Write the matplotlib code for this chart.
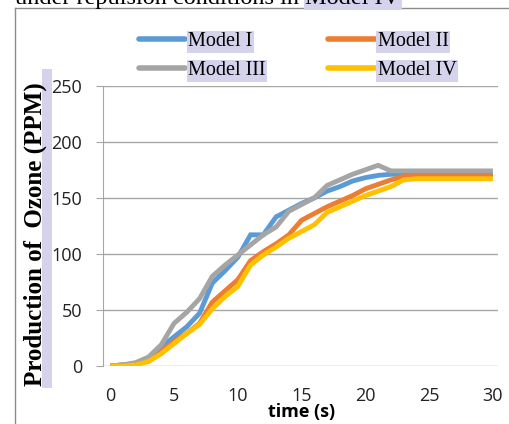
import matplotlib
matplotlib.use("Agg")
import matplotlib.pyplot as plt
from matplotlib.lines import Line2D
from matplotlib.patches import Rectangle

time_s = list(range(0, 31))
model_1 = [0, 1, 2, 7, 17, 26, 35, 47, 74, 85, 97, 117, 117, 133, 139, 145, 150, 156, 160, 165,
           168, 170, 171, 171, 171, 171, 171, 171, 171, 171, 171]
model_2 = [0, 1, 2, 6, 13, 22, 29, 38, 57, 67, 77, 94, 102, 109, 117, 130, 136, 142, 147, 152,
           158, 162, 166, 169, 169, 169, 169, 169, 169, 169, 169]
model_3 = [0, 1, 3, 8, 19, 38, 48, 60, 80, 90, 99, 108, 117, 124, 138, 144, 150, 161, 166, 171,
           175, 179, 174, 174, 174, 174, 174, 174, 174, 174, 174]
model_4 = [0, 0, 1, 4, 11, 20, 29, 37, 51, 62, 71, 90, 99, 106, 114, 120, 126, 137, 142, 147,
           152, 156, 160, 166, 167, 167, 167, 167, 167, 167, 167]
series_names = ["Model I", "Model II", "Model III", "Model IV"]
series_colors = ["#5B9BD5", "#ED7D31", "#A5A5A5", "#FFC000"]
y_ticks = [0, 50, 100, 150, 200, 250]
x_ticks = [0, 5, 10, 15, 20, 25, 30]

W, H = 509, 424
fig = plt.figure(figsize=(W / 100, H / 100), dpi=100)

def fx(px):
    return px / W

def fy(py):
    return 1 - py / H

HL = "#D5D2EC"

# outer frame lines
fig.add_artist(Line2D([fx(15), fx(15)], [0, fy(7.8)], color="#8C8C8C", lw=1.0))
fig.add_artist(Line2D([fx(15), 1], [fy(7.8), fy(7.8)], color="#8C8C8C", lw=1.0))

# caption at top (cut off by the page edge, as in the source)
cap = fig.text(fx(15), fy(4), "under repulsion conditions in ", fontsize=17.5,
               family="Liberation Serif", ha="left", va="baseline", color="black")
fig.canvas.draw()
bb = cap.get_window_extent()
fig.text(bb.x1 / W, fy(4), "Model IV", fontsize=17.5, family="Liberation Serif",
         ha="left", va="baseline", color="black",
         bbox=dict(facecolor=HL, edgecolor="none", pad=1))

ax_left, ax_right = 103, 498
ax_top, ax_bot = 85.7, 366
ax = fig.add_axes([fx(ax_left), fy(ax_bot), (ax_right - ax_left) / W, (ax_bot - ax_top) / H])

series = [model_1, model_2, model_3, model_4]
handles = []
for vals, name, col in zip(series, series_names, series_colors):
    h, = ax.plot(time_s, vals, color=col, lw=3.5, label=name, solid_capstyle="butt",
                 solid_joinstyle="miter")
    handles.append(h)

ax.set_xlim(-0.57, 30.4)
ax.set_ylim(0, 250)
ax.set_yticks(y_ticks)
ax.set_xticks(x_ticks)
ax.grid(axis="y", color="#A6A6A6", lw=1.0)
ax.set_axisbelow(True)
for s in ["top", "right", "bottom"]:
    ax.spines[s].set_visible(False)
ax.spines["left"].set_color("#A6A6A6")
ax.tick_params(axis="y", length=5, color="#A6A6A6", pad=10, labelsize=13)
ax.tick_params(axis="x", length=0, pad=15, labelsize=13)
for lab in ax.get_xticklabels() + ax.get_yticklabels():
    lab.set_family("Open Sans")
    lab.set_color("#222222")

ax.set_xlabel("time (s)", fontsize=13, fontweight="bold", family="Open Sans")
ax.xaxis.set_label_coords(0.503, (ax_bot - 412.5) / (ax_bot - ax_top))
ax.xaxis.label.set_va("center")

# y label with offset highlight bar
fig.add_artist(Rectangle((fx(41.7), fy(388)), (51.7 - 41.7) / W, (388 - 69.3) / H,
                         facecolor=HL, edgecolor="none"))
fig.text(fx(35.5), fy(234), "Production of  Ozone (PPM)", rotation=90, fontsize=18,
         fontweight="bold", family="Liberation Serif", ha="center", va="center")

# legend: row-wise order (I, II / III, IV) with column-major filling
order = [0, 2, 1, 3]
leg = fig.legend(handles=[handles[i] for i in order],
                 labels=[series_names[i] for i in order], ncol=2, loc="upper left",
                 bbox_to_anchor=(fx(139), fy(32)), frameon=False,
                 prop={"family": "Liberation Serif", "size": 14.5},
                 handlelength=2.3, handletextpad=0.15, columnspacing=3.1,
                 labelspacing=0.5, borderpad=0, borderaxespad=0)
for ln in leg.get_lines():
    ln.set_linewidth(4.0)
    ln.set_solid_capstyle("round")
for t in leg.get_texts():
    t.set_bbox(dict(facecolor=HL, edgecolor="none", pad=1))

fig.savefig("out.png", dpi=100)
